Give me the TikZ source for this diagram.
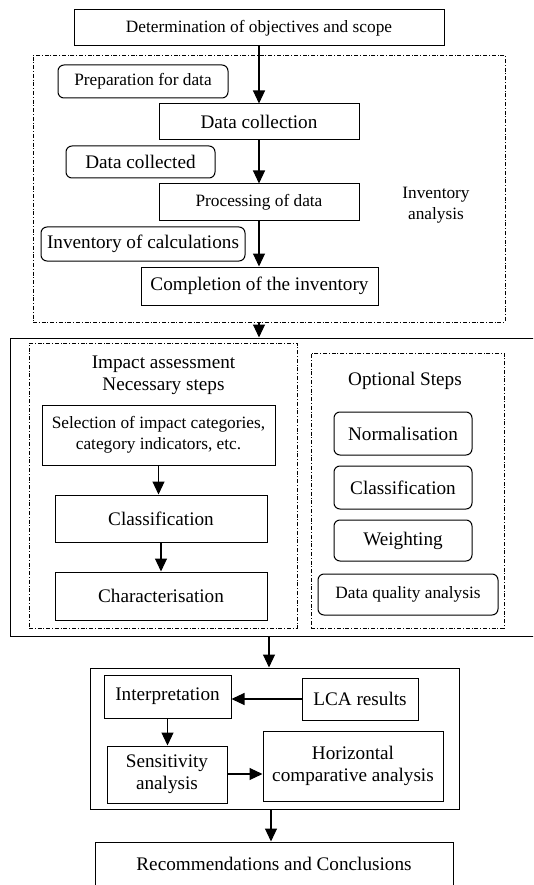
\documentclass[tikz,border=0pt]{standalone}
\usepackage{fontspec}
\setmainfont{Liberation Serif}
\usetikzlibrary{arrows.meta}
\tikzset{
  big/.style={font=\fontsize{19.2}{22}\selectfont},
  small/.style={font=\fontsize{17.3}{21}\selectfont},
  box/.style={draw, line width=1pt, inner sep=1pt, align=center},
  rbox/.style={box, rounded corners=6pt},
  dashframe/.style={draw, line width=0.9pt, dash pattern=on 4pt off 1.8pt on 1pt off 1.8pt, inner sep=0pt},
  solidframe/.style={draw, line width=1pt, inner sep=0pt},
  arr/.style={line width=1.1pt, -{Triangle[length=13pt,width=12pt]}},
  lbl/.style={inner sep=0pt, align=center}
}
\begin{document}
\begin{tikzpicture}[x=1pt,y=-1pt]
\useasboundingbox (0,0) rectangle (533,885);
\clip (0,0) rectangle (533,885);
% top
\node[box, small, minimum width=370pt, minimum height=36pt] (top) at (259,28) {Determination of objectives and scope};
% inventory frame
\node[dashframe, minimum width=472pt, minimum height=267pt] (invframe) at (269,188.5) {};
\node[rbox, small, minimum width=170pt, minimum height=33pt] (prep) at (143,81.5) {Preparation for data};
\node[box, big, minimum width=200pt, minimum height=36pt] (dcol) at (259,122) {Data collection};
\node[rbox, big, minimum width=149pt, minimum height=32pt] (dcoll) at (140.5,162) {Data collected};
\node[box, small, minimum width=200pt, minimum height=37pt] (proc) at (259,202.5) {Processing of data};
\node[lbl, small] (invana) at (436,205) {Inventory\\analysis};
\node[rbox, big, minimum width=204pt, minimum height=34pt] (invcalc) at (143,244) {Inventory of calculations};
\node[box, big, minimum width=237pt, minimum height=38pt] (compl) at (259.5,286) {Completion of the inventory};
\draw[arr] (top.south) -- (top.south |- dcol.north);
\draw[arr] (dcol.south) -- (dcol.south |- proc.north);
\draw[arr] (proc.south) -- (proc.south |- compl.north);
% impact outer
\node[solidframe, minimum width=535pt, minimum height=298pt] (impact) at (277.5,487) {};
\draw[arr] (invframe.south -| top.south) -- (impact.north -| top.south);
% necessary steps
\node[dashframe, minimum width=268pt, minimum height=285pt] (necframe) at (163,485.5) {};
\node[lbl, big] (necttl) at (163.5,375) {Impact assessment\\Necessary steps};
\node[box, small, minimum width=233pt, minimum height=60pt] (sel) at (158.5,435) {Selection of impact categories,\\category indicators, etc.};
\node[box, big, minimum width=212pt, minimum height=47pt] (cls1) at (161,518.5) {Classification};
\node[box, big, minimum width=212pt, minimum height=48pt] (char) at (161,596) {Characterisation};
\draw[arr] (sel.south) -- (sel.south |- cls1.north);
\draw[arr] (cls1.south) -- (cls1.south |- char.north);
% optional steps
\node[dashframe, minimum width=193pt, minimum height=275pt] (optframe) at (407.5,490.5) {};
\node[lbl, big] (optttl) at (405,381) {Optional Steps};
\node[rbox, big, minimum width=138pt, minimum height=43pt] (norm) at (403,433.5) {Normalisation};
\node[rbox, big, minimum width=138pt, minimum height=43pt] (cls2) at (403,487.5) {Classification};
\node[rbox, big, minimum width=138pt, minimum height=41pt] (weight) at (403,540.5) {Weighting};
\node[rbox, small, minimum width=180pt, minimum height=41pt] (dqa) at (408,594.5) {Data quality analysis};
% interpretation
\node[solidframe, minimum width=369pt, minimum height=141pt] (intframe) at (274.5,738.5) {};
\coordinate (a1) at (269,0);
\draw[arr] (impact.south -| a1) -- (intframe.north -| a1);
\node[box, big, minimum width=127pt, minimum height=43pt] (interp) at (167.5,696.5) {Interpretation};
\node[box, big, minimum width=116pt, minimum height=42pt] (lca) at (360,699) {LCA results};
\node[box, big, minimum width=120pt, minimum height=57pt] (sens) at (167,774.5) {Sensitivity\\analysis};
\node[box, big, minimum width=180pt, minimum height=70pt] (horiz) at (353,766) {Horizontal\\comparative analysis};
\draw[arr] (lca.west) -- (lca.west -| interp.east);
\draw[arr] (interp.south) -- (interp.south |- sens.north);
\coordinate (a2) at (0,774);
\draw[arr] (sens.east |- a2) -- (horiz.west |- a2);
\node[box, big, minimum width=358pt, minimum height=44pt] (rec) at (274,864) {Recommendations and Conclusions};
\coordinate (a3) at (271,0);
\draw[arr] (intframe.south -| a3) -- (rec.north -| a3);
\end{tikzpicture}
\end{document}
